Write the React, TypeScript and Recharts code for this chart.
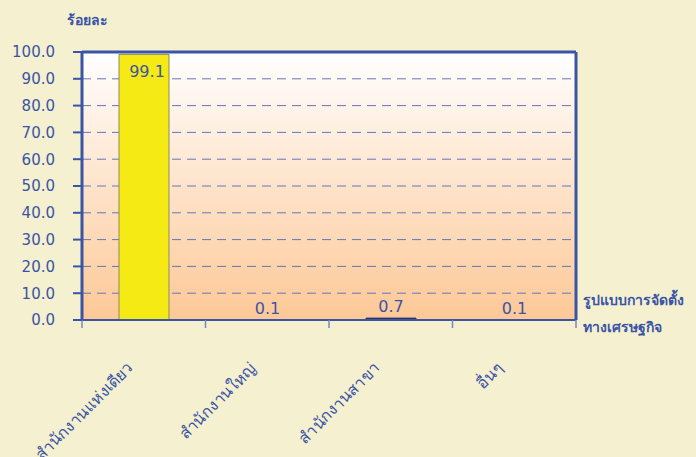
import { BarChart, Bar, XAxis, YAxis, CartesianGrid, LabelList, Cell, ReferenceLine } from "recharts";

const categories = ["สำนักงานแห่งเดียว", "สำนักงานใหญ่", "สำนักงานสาขา", "อื่นๆ"];
const shares = [99.1, 0.1, 0.7, 0.1];
const barColors = ["#f6ea14", "#f6ea14", "#2b3566", "#2b3566"];
const barStrokes = ["#8b8a62", "#8b8a62", "#2b3566", "#2b3566"];
const yTicks = [0, 10, 20, 30, 40, 50, 60, 70, 80, 90, 100];
const edgeTicks = [0, 1, 2, 3, 4];

const data = categories.map((name, i) => ({ name, value: shares[i], pos: i + 0.5 }));

const BLUE = "#3a55a6";
const FONT = "Tahoma, 'DejaVu Sans', 'Noto Sans', sans-serif";

const ValueLabel = (props: any) => {
  const { x, y, width, value } = props;
  const inside = value > 50;
  return (
    <text
      x={x + width / 2 + (inside ? 3 : 0)}
      y={inside ? y + 23 : y - 6}
      textAnchor="middle"
      fill={BLUE}
      fontSize={16}
      fontFamily={FONT}
    >
      {value.toFixed(1)}
    </text>
  );
};

const CatTick = (props: any) => {
  const { x, y, payload } = props;
  const tx = x - 10;
  const ty = y + 31;
  return (
    <text
      x={tx}
      y={ty}
      transform={`rotate(-45, ${tx}, ${ty})`}
      textAnchor="end"
      fill={BLUE}
      fontSize={16}
      fontFamily={FONT}
    >
      {payload.value}
    </text>
  );
};

const NoTick = () => <g />;

export default function App() {
  return (
    <div style={{ position: "absolute", left: 0, top: 0, width: 696, height: 457, background: "#f5f0cf", fontFamily: FONT }}>
      <div style={{ position: "absolute", left: 67, top: 9, color: BLUE, fontSize: 14, fontWeight: 600 }}>ร้อยละ</div>
      <div
        style={{
          position: "absolute",
          left: 583,
          top: 287,
          color: BLUE,
          fontSize: 14,
          fontWeight: 600,
          lineHeight: "27px",
          whiteSpace: "nowrap",
        }}
      >
        รูปแบบการจัดตั้ง<br />ทางเศรษฐกิจ
      </div>
      <BarChart
        width={696}
        height={457}
        data={data}
        margin={{ top: 52, right: 0, bottom: 0, left: 0 }}
        style={{ position: "absolute", left: 0, top: 0 }}
      >
        <defs>
          <linearGradient id="plotBg" x1="0" y1="0" x2="0" y2="1">
            <stop offset="0%" stopColor="#ffffff" />
            <stop offset="100%" stopColor="#fdc896" />
          </linearGradient>
        </defs>
        <CartesianGrid vertical={false} fill="url(#plotBg)" stroke="#6375bd" strokeDasharray="9 6" horizontalValues={yTicks} />
        <XAxis
          xAxisId="axisB"
          dataKey="name"
          height={127}
          axisLine={false}
          tickLine={false}
          interval={0}
          tick={<CatTick />}
        />
        <XAxis
          xAxisId="axisA"
          dataKey="pos"
          type="number"
          domain={[0, 4]}
          ticks={edgeTicks}
          allowDataOverflow
          height={10}
          tick={<NoTick />}
          tickSize={8}
          axisLine={{ stroke: BLUE, strokeWidth: 2 }}
          tickLine={{ stroke: "#7a88c0", strokeWidth: 1.5 }}
        />
        <YAxis
          domain={[0, 100]}
          ticks={yTicks}
          width={82}
          tickSize={9}
          tickMargin={18}
          tickFormatter={(v: number) => v.toFixed(1)}
          axisLine={{ stroke: BLUE, strokeWidth: 3 }}
          tickLine={{ stroke: BLUE, strokeWidth: 2 }}
          tick={{ fill: BLUE, fontSize: 15, fontFamily: FONT }}
        />
        <YAxis
          yAxisId="right"
          orientation="right"
          domain={[0, 100]}
          width={120}
          tick={false}
          tickLine={false}
          axisLine={{ stroke: BLUE, strokeWidth: 3 }}
        />
        <ReferenceLine y={100} stroke={BLUE} strokeWidth={3} xAxisId="axisB" />
        <Bar dataKey="value" xAxisId="axisB" barSize={50} strokeWidth={1} isAnimationActive={false}>
          {data.map((d, i) => (
            <Cell key={d.name} fill={barColors[i]} stroke={barStrokes[i]} />
          ))}
          <LabelList dataKey="value" content={<ValueLabel />} />
        </Bar>
      </BarChart>
    </div>
  );
}
